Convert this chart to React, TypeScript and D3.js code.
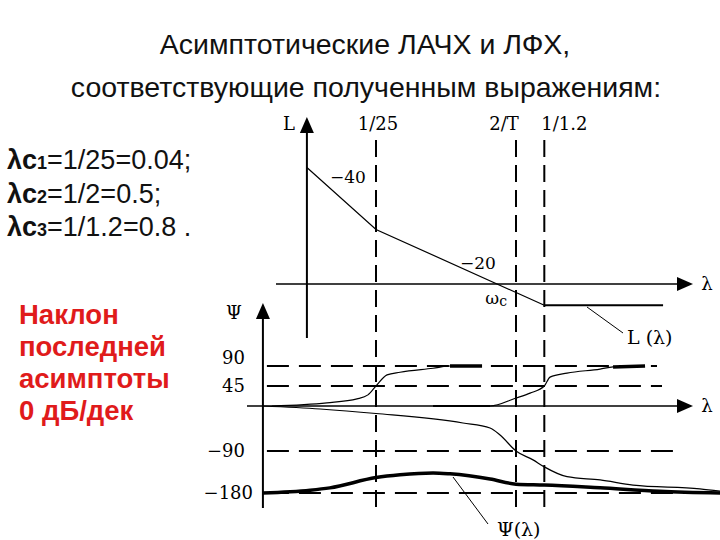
import React from "react";
import * as d3 from "d3";

// ---- data ----
const breakLambdas = [0.04, 0.5, 0.8333];
const breakLabels = ["1/25", "2/T", "1/1.2"];
const omegaC = 0.35;

// asymptotic LAFC (dB)
const lLambda = [0.0115, 0.04, 0.8333, 7.1];
const lValues = [40.6, 19, -7.4, -7.4];

// phase gridlines
const phaseTicks = [90, 45, -90, -180];
const phaseTickLabels = ["90", "45", "\u221290", "\u2212180"];

// phase component 1 (break 1/25)
const ph1Lambda = [0.0061, 0.0165, 0.0284, 0.0346, 0.04, 0.0488, 0.0617, 0.112, 0.152, 0.271];
const ph1Values = [0, 7, 16, 25, 45, 70, 76, 85, 90, 90];
// phase component 2 (break 1/1.2)
const ph2Lambda = [0.112, 0.313, 0.5, 0.644, 0.8333, 0.924, 1.256, 2.28, 2.88, 5.13];
const ph2Values = [0, 0, 18, 29, 45, 65, 74, 83, 88, 90];
// phase component 3 (2/T, falling)
const ph3Lambda = [0.0052, 0.0146, 0.04, 0.192, 0.313, 0.375, 0.5, 0.68, 0.8333, 1.256, 2.28, 4.13, 13.8, 19.9];
const ph3Values = [0, -6, -15, -34, -44, -58, -90, -109, -124, -145, -152, -163, -171, -176];
// total phase
const psiLambda = [0.0052, 0.0122, 0.0174, 0.04, 0.0617, 0.112, 0.152, 0.313, 0.5, 0.8333, 2.28, 6.7, 19.9];
const psiValues = [-180, -174, -169, -147, -141, -137, -139, -150, -161, -163, -169, -176, -180];

const formulas = [
  { sub: "1", rest: "=1/25=0.04;" },
  { sub: "2", rest: "=1/2=0.5;" },
  { sub: "3", rest: "=1/1.2=0.8 ." },
];
const noteLines = ["Наклон", "последней", "асимптоты", "0 дБ/дек"];

// ---- scales ----
const x = d3.scaleLog().domain([0.04, 0.5]).range([376, 516]);
const yL = d3.scaleLinear().domain([0, 40]).range([284, 169.2]);
const yP = d3.scaleLinear().domain([-180, -90, 0, 45, 90]).range([493, 451, 406, 386, 366]);

const zip = (a: number[], b: number[]) => a.map((v, i) => [v, b[i]] as [number, number]);
const lineL = d3.line<[number, number]>().x((d) => x(d[0])).y((d) => yL(d[1]));
const lineP = d3
  .line<[number, number]>()
  .x((d) => x(d[0]))
  .y((d) => yP(d[1]))
  .curve(d3.curveMonotoneX);

const SERIF = "'DejaVu Serif', 'Liberation Serif', serif";
const SANS = "'Liberation Sans', Arial, sans-serif";

export default function App() {
  const lPts = zip(lLambda, lValues);
  const xAxisL0 = 276, xAxisL1 = 690;
  const xAxisP0 = 247, xAxisP1 = 690;
  const xLAxis = x(0.0115);
  const xPAxis = x(0.0052);
  const labelDx = [2, -12, 20];
  return (
    <svg
      width={720}
      height={540}
      style={{ position: "absolute", left: 0, top: 0, background: "#fff" }}
    >
      <rect x={0} y={0} width={720} height={540} fill="#fff" />
      {/* titles */}
      <text x={365} y={54} textAnchor="middle" fontFamily={SANS} fontSize={28.5} fill="#111">
        Асимптотические ЛАЧХ и ЛФХ,
      </text>
      <text x={366} y={97} textAnchor="middle" fontFamily={SANS} fontSize={28.5} fill="#111">
        соответствующие полученным выражениям:
      </text>
      {/* formulas */}
      {formulas.map((f, i) => (
        <text key={i} x={7} y={169 + i * 33.5} fontFamily={SANS} fontSize={27} fill="#111">
          <tspan fontWeight="bold">λс</tspan>
          <tspan fontWeight="bold" fontSize={18}>{f.sub}</tspan>
          <tspan>{f.rest}</tspan>
        </text>
      ))}
      {/* red note */}
      {noteLines.map((t, i) => (
        <text key={i} x={19} y={324 + i * 32} fontFamily={SANS} fontSize={27.5} fontWeight="bold" fill="#e01b1b">
          {t}
        </text>
      ))}

      {/* dashed verticals */}
      {breakLambdas.map((b, i) => (
        <g key={i}>
          <line x1={x(b)} x2={x(b)} y1={140} y2={510} stroke="#000" strokeWidth={2} strokeDasharray="17 8" />
          <text x={x(b) + labelDx[i]} y={130} textAnchor="middle" fontFamily={SERIF} fontSize={18} fill="#000">
            {breakLabels[i]}
          </text>
        </g>
      ))}

      {/* upper axes */}
      <line x1={xLAxis} x2={xLAxis} y1={128} y2={338} stroke="#000" strokeWidth={2} />
      <path d={`M${xLAxis},117 L${xLAxis - 7},133 L${xLAxis + 7},133 Z`} fill="#000" />
      <text x={289} y={130} textAnchor="middle" fontFamily={SERIF} fontSize={18}>L</text>
      <line x1={xAxisL0} x2={xAxisL1 - 10} y1={yL(0)} y2={yL(0)} stroke="#000" strokeWidth={1.5} />
      <path d={`M${xAxisL1 + 3},${yL(0)} L${xAxisL1 - 13},${yL(0) - 7} L${xAxisL1 - 13},${yL(0) + 7} Z`} fill="#000" />
      <text x={707} y={290} textAnchor="middle" fontFamily={SERIF} fontSize={18}>λ</text>

      {/* L curve */}
      <path d={lineL(lPts.slice(0, 3)) || ""} fill="none" stroke="#000" strokeWidth={1.2} />
      <path d={lineL(lPts.slice(2)) || ""} fill="none" stroke="#000" strokeWidth={2.2} />
      <text x={348} y={183} textAnchor="middle" fontFamily={SERIF} fontSize={17}>−40</text>
      <text x={478} y={269} textAnchor="middle" fontFamily={SERIF} fontSize={17}>−20</text>
      <text x={x(omegaC)} y={304} textAnchor="middle" fontFamily={SERIF} fontSize={17}>
        ω<tspan fontSize={14} dy={2}>c</tspan>
      </text>
      <line x1={587} y1={307} x2={623} y2={333} stroke="#000" strokeWidth={1} />
      <text x={627} y={344} fontFamily={SERIF} fontSize={19}>L (λ)</text>

      {/* lower axes */}
      <line x1={xPAxis} x2={xPAxis} y1={318} y2={508} stroke="#000" strokeWidth={2} />
      <path d={`M${xPAxis},303 L${xPAxis - 7},319 L${xPAxis + 7},319 Z`} fill="#000" />
      <text x={234} y={319} textAnchor="middle" fontFamily={SERIF} fontSize={18}>Ψ</text>
      <line x1={xAxisP0} x2={xAxisP1 - 10} y1={yP(0)} y2={yP(0)} stroke="#000" strokeWidth={1.5} />
      <path d={`M${xAxisP1 + 3},${yP(0)} L${xAxisP1 - 13},${yP(0) - 7} L${xAxisP1 - 13},${yP(0) + 7} Z`} fill="#000" />
      <text x={707} y={412} textAnchor="middle" fontFamily={SERIF} fontSize={18}>λ</text>

      {/* phase gridlines */}
      {phaseTicks.map((t, i) => (
        <g key={t}>
          <line
            x1={xPAxis + 4}
            x2={[657, 662, 680, 720][i]}
            y1={yP(t)}
            y2={yP(t)}
            stroke="#000"
            strokeWidth={1.8}
            strokeDasharray="22 10"
          />
          <text
            x={i === 3 ? 253 : 245}
            y={yP(t) + (i === 0 ? -2 : 6)}
            textAnchor="end"
            fontFamily={SERIF}
            fontSize={18}
          >
            {phaseTickLabels[i]}
          </text>
        </g>
      ))}

      {/* phase curves */}
      <path d={lineP(zip(ph1Lambda, ph1Values)) || ""} fill="none" stroke="#000" strokeWidth={1.2} />
      <path d={lineP(zip(ph1Lambda, ph1Values).slice(-2)) || ""} fill="none" stroke="#000" strokeWidth={3.5} />
      <path d={lineP(zip(ph2Lambda, ph2Values)) || ""} fill="none" stroke="#000" strokeWidth={1.2} />
      <path d={lineP(zip(ph2Lambda, ph2Values).slice(0, 2)) || ""} fill="none" stroke="#000" strokeWidth={2.2} />
      <path d={lineP(zip(ph2Lambda, ph2Values).slice(-2)) || ""} fill="none" stroke="#000" strokeWidth={3.5} />
      <path d={lineP(zip(ph3Lambda, ph3Values)) || ""} fill="none" stroke="#000" strokeWidth={1.2} />
      <path d={lineP(zip(psiLambda, psiValues)) || ""} fill="none" stroke="#000" strokeWidth={3.5} />

      <line x1={453} y1={477} x2={488} y2={524} stroke="#000" strokeWidth={1} />
      <text x={497} y={536} fontFamily={SERIF} fontSize={19}>Ψ(λ)</text>
    </svg>
  );
}
